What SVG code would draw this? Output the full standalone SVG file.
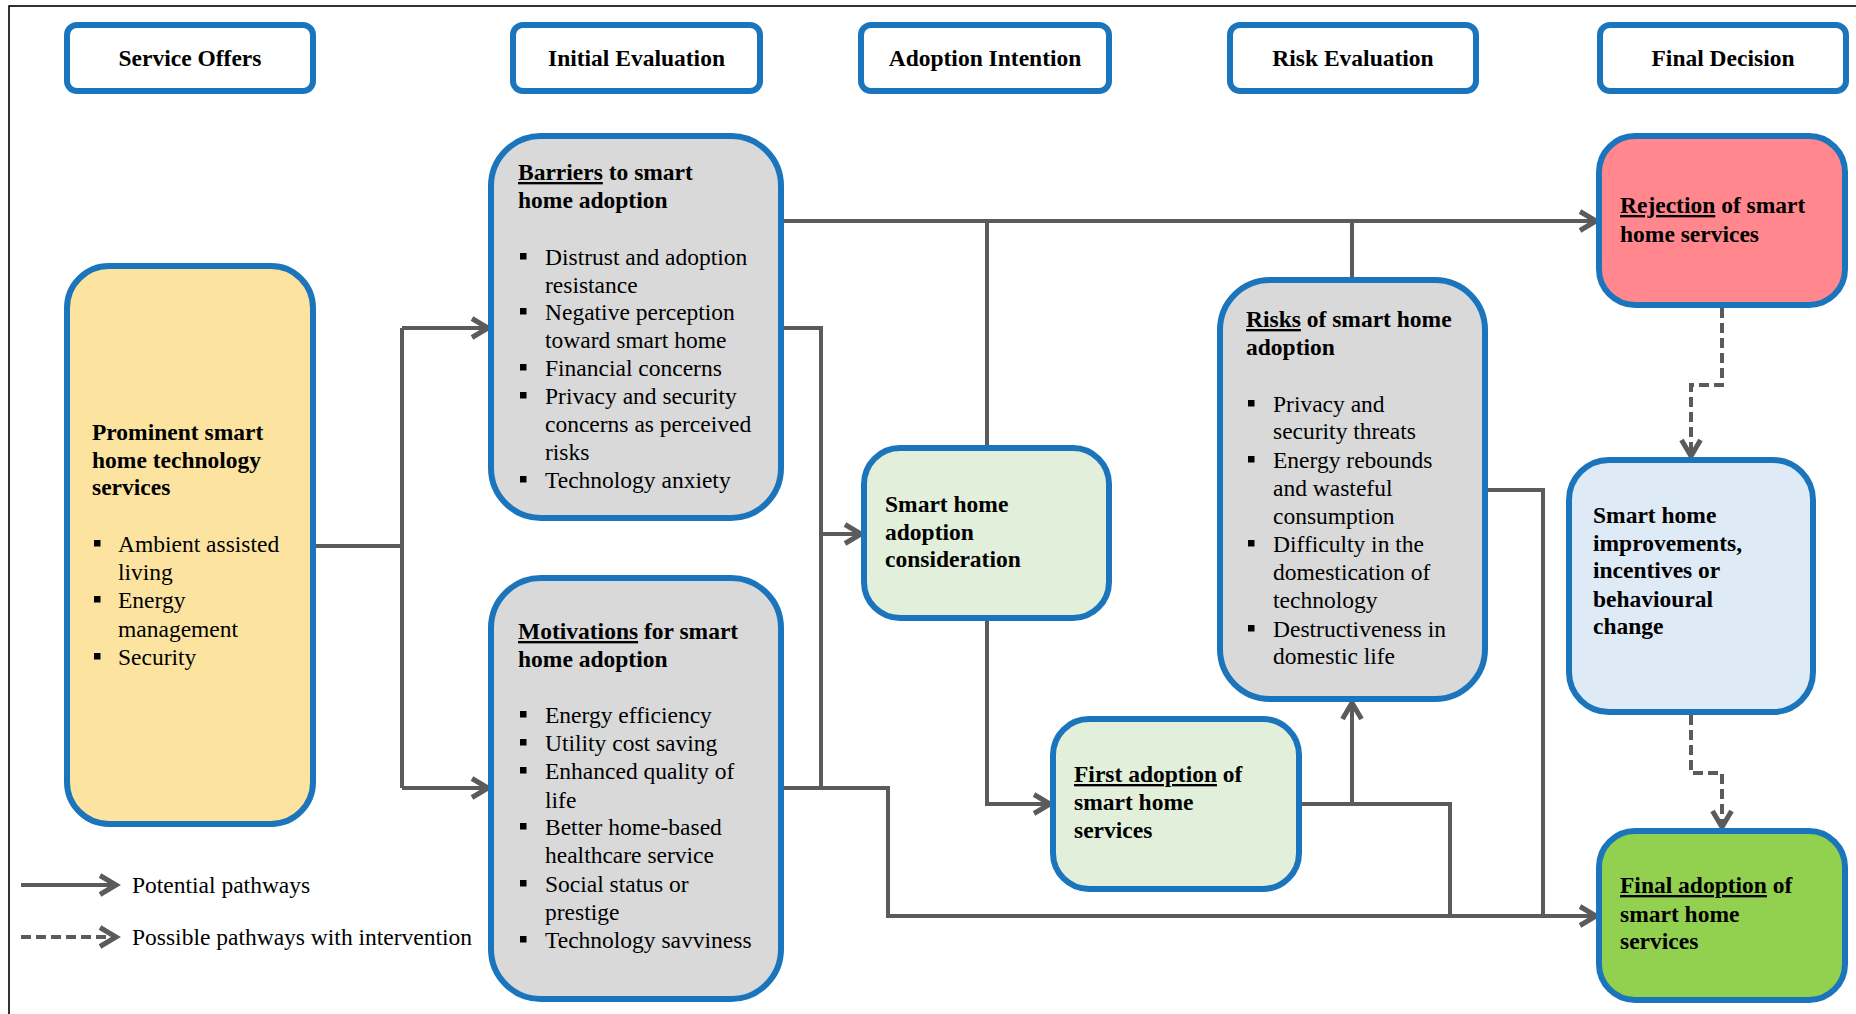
<svg xmlns="http://www.w3.org/2000/svg" width="1856" height="1014" viewBox="0 0 1856 1014">
<style>
.box{stroke:#1B75BC;stroke-width:6}
.hdr{fill:#fff}
.gray{fill:#D9D9D9}
.yel{fill:#FCE4A0}
.lg{fill:#E2EFDA}
.pink{fill:#FF878D}
.blue{fill:#DEEAF6}
.green{fill:#92D050}
text{font-family:"Liberation Serif","Times New Roman",serif;font-size:23.5px;fill:#000}
.b{font-weight:bold}
.c{text-anchor:middle}
.u{text-decoration:underline}
.ln{fill:none;stroke:#5B5B5B;stroke-width:4}
.dash{stroke-dasharray:10 5}
</style>
<defs>
<marker id="ah" markerUnits="userSpaceOnUse" viewBox="-22 -13 26 26" refX="0" refY="0" markerWidth="26" markerHeight="26" orient="auto">
<path d="M-17,-9.5 L-1,0 L-17,9.5" fill="none" stroke="#5B5B5B" stroke-width="5"/>
</marker>
<rect id="bu" width="6.5" height="6.5"/>
</defs>
<rect x="9" y="6" width="1900" height="1100" fill="none" stroke="#000" stroke-width="1.6"/>

<g id="hdr-service-offers"><rect class="box hdr" x="67" y="25" width="246" height="66" rx="10"/><text class="b c" x="190" y="66">Service Offers</text></g>
<g id="hdr-initial-evaluation"><rect class="box hdr" x="513" y="25" width="247" height="66" rx="10"/><text class="b c" x="636.5" y="66">Initial Evaluation</text></g>
<g id="hdr-adoption-intention"><rect class="box hdr" x="861" y="25" width="248" height="66" rx="10"/><text class="b c" x="985" y="66">Adoption Intention</text></g>
<g id="hdr-risk-evaluation"><rect class="box hdr" x="1230" y="25" width="246" height="66" rx="10"/><text class="b c" x="1353" y="66">Risk Evaluation</text></g>
<g id="hdr-final-decision"><rect class="box hdr" x="1600" y="25" width="246" height="66" rx="10"/><text class="b c" x="1723" y="66">Final Decision</text></g>

<g id="connectors">
<path class="ln" d="M314,546 H402"/>
<path class="ln" d="M402,328 V788"/>
<path class="ln" d="M402,328 H489" marker-end="url(#ah)"/>
<path class="ln" d="M402,788 H489" marker-end="url(#ah)"/>
<path class="ln" d="M782,328 H821 V788"/>
<path class="ln" d="M821,534 H862" marker-end="url(#ah)"/>
<path class="ln" d="M782,788 H888 V916 H1597" marker-end="url(#ah)"/>
<path class="ln" d="M782,221 H1597" marker-end="url(#ah)"/>
<path class="ln" d="M987,446 V221"/>
<path class="ln" d="M1352,277 V221"/>
<path class="ln" d="M987,620 V804 H1051" marker-end="url(#ah)"/>
<path class="ln" d="M1300,804 H1450 V916"/>
<path class="ln" d="M1352,804 V702" marker-end="url(#ah)"/>
<path class="ln" d="M1487,490 H1543 V916"/>
<path class="ln dash" d="M1722,308 V385 H1691 V457" marker-end="url(#ah)"/>
<path class="ln dash" d="M1691,715 V773 H1722 V828" marker-end="url(#ah)"/>
<path class="ln" d="M21,885 H117" marker-end="url(#ah)"/>
<path class="ln dash" d="M21,937 H117" marker-end="url(#ah)"/>
</g>

<g id="legend">
<text x="132" y="893">Potential pathways</text>
<text x="132" y="945">Possible pathways with intervention</text>
</g>

<g id="node-services">
<rect class="box yel" x="67" y="266" width="246" height="558" rx="42"/>
<text class="b" x="92" y="440">Prominent smart</text>
<text class="b" x="92" y="468">home technology</text>
<text class="b" x="92" y="495">services</text>
<use href="#bu" x="94" y="540"/><text x="118" y="552">Ambient assisted</text>
<text x="118" y="580">living</text>
<use href="#bu" x="94" y="596"/><text x="118" y="608">Energy</text>
<text x="118" y="637">management</text>
<use href="#bu" x="94" y="653"/><text x="118" y="665">Security</text>
</g>

<g id="node-barriers">
<rect class="box gray" x="491" y="136" width="290" height="382" rx="50"/>
<text class="b" x="518" y="180"><tspan class="u">Barriers</tspan> to smart</text>
<text class="b" x="518" y="208">home adoption</text>
<use href="#bu" x="520" y="253"/><text x="545" y="265">Distrust and adoption</text>
<text x="545" y="293">resistance</text>
<use href="#bu" x="520" y="308"/><text x="545" y="320">Negative perception</text>
<text x="545" y="348">toward smart home</text>
<use href="#bu" x="520" y="364"/><text x="545" y="376">Financial concerns</text>
<use href="#bu" x="520" y="392"/><text x="545" y="404">Privacy and security</text>
<text x="545" y="432">concerns as perceived</text>
<text x="545" y="460">risks</text>
<use href="#bu" x="520" y="476"/><text x="545" y="488">Technology anxiety</text>
</g>

<g id="node-motivations">
<rect class="box gray" x="491" y="578" width="290" height="421" rx="50"/>
<text class="b" x="518" y="639"><tspan class="u">Motivations</tspan> for smart</text>
<text class="b" x="518" y="667">home adoption</text>
<use href="#bu" x="520" y="711"/><text x="545" y="723">Energy efficiency</text>
<use href="#bu" x="520" y="739"/><text x="545" y="751">Utility cost saving</text>
<use href="#bu" x="520" y="767"/><text x="545" y="779">Enhanced quality of</text>
<text x="545" y="808">life</text>
<use href="#bu" x="520" y="823"/><text x="545" y="835">Better home-based</text>
<text x="545" y="863">healthcare service</text>
<use href="#bu" x="520" y="880"/><text x="545" y="892">Social status or</text>
<text x="545" y="920">prestige</text>
<use href="#bu" x="520" y="936"/><text x="545" y="948">Technology savviness</text>
</g>

<g id="node-consideration">
<rect class="box lg" x="864" y="448" width="245" height="170" rx="36"/>
<text class="b" x="885" y="512">Smart home</text>
<text class="b" x="885" y="540">adoption</text>
<text class="b" x="885" y="567">consideration</text>
</g>

<g id="node-risks">
<rect class="box gray" x="1220" y="280" width="265" height="419" rx="50"/>
<text class="b" x="1246" y="327"><tspan class="u">Risks</tspan> of smart home</text>
<text class="b" x="1246" y="355">adoption</text>
<use href="#bu" x="1248" y="400"/><text x="1273" y="412">Privacy and</text>
<text x="1273" y="439">security threats</text>
<use href="#bu" x="1248" y="456"/><text x="1273" y="468">Energy rebounds</text>
<text x="1273" y="496">and wasteful</text>
<text x="1273" y="524">consumption</text>
<use href="#bu" x="1248" y="540"/><text x="1273" y="552">Difficulty in the</text>
<text x="1273" y="580">domestication of</text>
<text x="1273" y="608">technology</text>
<use href="#bu" x="1248" y="625"/><text x="1273" y="637">Destructiveness in</text>
<text x="1273" y="664">domestic life</text>
</g>

<g id="node-rejection">
<rect class="box pink" x="1599" y="136" width="246" height="169" rx="36"/>
<text class="b" x="1620" y="213"><tspan class="u">Rejection</tspan> of smart</text>
<text class="b" x="1620" y="242">home services</text>
</g>

<g id="node-improvements">
<rect class="box blue" x="1569" y="460" width="244" height="252" rx="40"/>
<text class="b" x="1593" y="523">Smart home</text>
<text class="b" x="1593" y="551">improvements,</text>
<text class="b" x="1593" y="578">incentives or</text>
<text class="b" x="1593" y="607">behavioural</text>
<text class="b" x="1593" y="634">change</text>
</g>

<g id="node-first-adoption">
<rect class="box lg" x="1053" y="719" width="246" height="170" rx="36"/>
<text class="b" x="1074" y="782"><tspan class="u">First adoption</tspan> of</text>
<text class="b" x="1074" y="810">smart home</text>
<text class="b" x="1074" y="838">services</text>
</g>

<g id="node-final-adoption">
<rect class="box green" x="1599" y="831" width="246" height="169" rx="36"/>
<text class="b" x="1620" y="893"><tspan class="u">Final adoption</tspan> of</text>
<text class="b" x="1620" y="922">smart home</text>
<text class="b" x="1620" y="949">services</text>
</g>
</svg>
